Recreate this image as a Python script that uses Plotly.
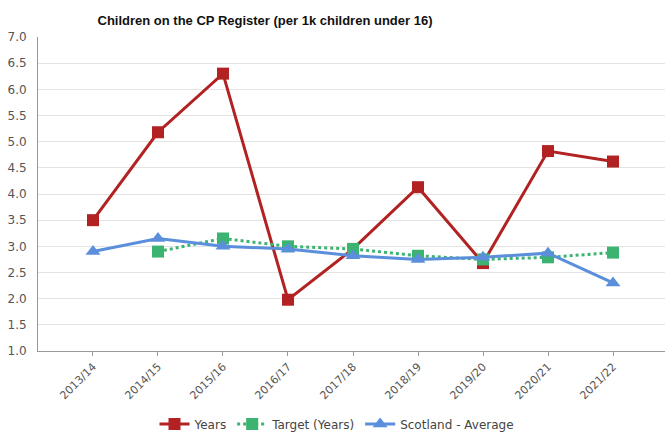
import plotly.graph_objects as go

categories = ["2013/14", "2014/15", "2015/16", "2016/17", "2017/18",
              "2018/19", "2019/20", "2020/21", "2021/22"]
years = [3.5, 5.18, 6.3, 1.98, 2.95, 4.13, 2.68, 4.82, 4.62]
target = [None, 2.9, 3.15, 3.0, 2.95, 2.82, 2.75, 2.79, 2.88]
scotland = [2.9, 3.15, 3.0, 2.95, 2.82, 2.75, 2.79, 2.87, 2.3]
y_ticks = [1.0, 1.5, 2.0, 2.5, 3.0, 3.5, 4.0, 4.5, 5.0, 5.5, 6.0, 6.5, 7.0]

RED = "#b22222"
GREEN = "#3cb371"
BLUE = "#5b8fdc"

fig = go.Figure()
fig.add_trace(go.Scatter(
    x=categories, y=years, name="Years", mode="lines+markers",
    line=dict(color=RED, width=3),
    marker=dict(symbol="square", size=12, color=RED),
))
fig.add_trace(go.Scatter(
    x=categories, y=target, name="Target (Years)", mode="lines+markers",
    line=dict(color=GREEN, width=3, dash="dot"),
    marker=dict(symbol="square", size=12, color=GREEN),
))
fig.add_trace(go.Scatter(
    x=categories, y=scotland, name="Scotland - Average", mode="lines+markers",
    line=dict(color=BLUE, width=3),
    marker=dict(symbol="triangle-up", size=13, color=BLUE),
))

fig.update_layout(
    width=665, height=432,
    margin=dict(l=38, r=0, t=37, b=81, autoexpand=False),
    paper_bgcolor="white", plot_bgcolor="white",
    font=dict(family="DejaVu Sans", size=12, color="#555555"),
    title=dict(
        text="<b>Children on the CP Register (per 1k children under 16)</b>",
        font=dict(family="Liberation Sans", size=13, color="#111111"),
        x=265 / 665, xanchor="center", xref="container",
        y=1 - 20 / 432, yanchor="middle", yref="container",
    ),
    showlegend=True,
    legend=dict(
        orientation="h", x=337 / 665, xanchor="center", xref="container",
        y=1 - 424 / 432, yanchor="middle", yref="container",
        font=dict(family="DejaVu Sans", size=12, color="#444444"),
        itemwidth=30, tracegroupgap=0, bgcolor="rgba(0,0,0,0)",
    ),
)
fig.update_xaxes(
    type="category", range=[-0.846, 8.8],
    showline=True, linecolor="#999999", linewidth=1,
    ticks="outside", ticklen=4, tickcolor="#999999",
    tickangle=-45, showgrid=False, automargin=False,
    tickfont=dict(family="DejaVu Sans", size=11, color="#555555"),
)
fig.update_yaxes(
    range=[1.0, 7.0], tickvals=y_ticks, tickformat=".1f",
    showline=True, linecolor="#999999", linewidth=1,
    ticks="", ticklabelstandoff=8, automargin=False,
    showgrid=True, gridcolor="#e3e3e3", gridwidth=1, zeroline=False,
    tickfont=dict(family="DejaVu Sans", size=12, color="#555555"),
)

fig.write_html(
    "out.html",
    config={"displayModeBar": False},
    post_script="document.body.style.margin='0';document.body.style.padding='0';",
)
